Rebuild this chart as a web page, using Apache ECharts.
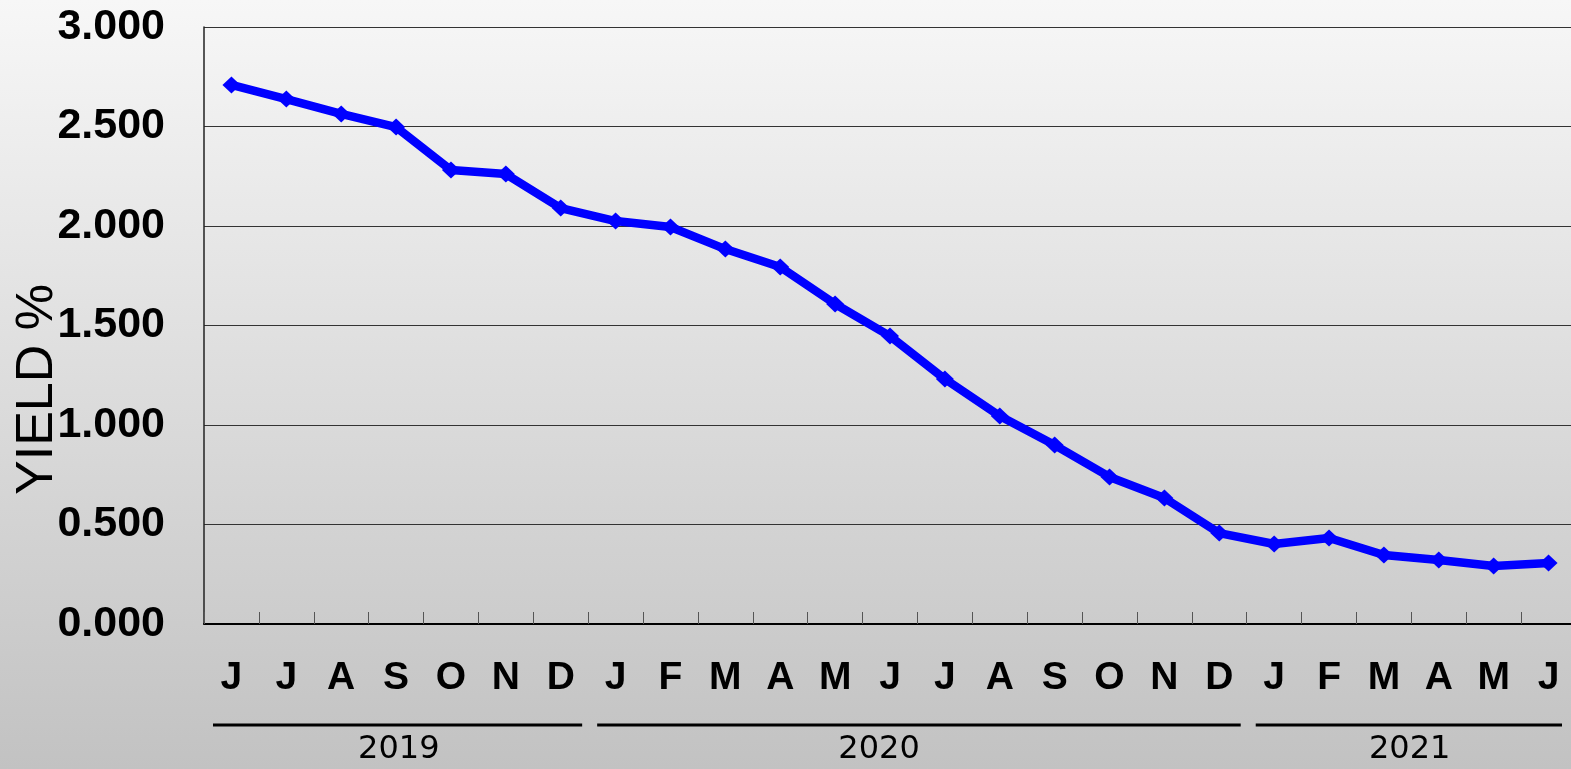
<!DOCTYPE html>
<html>
<head>
<meta charset="utf-8">
<script src="https://cdn.jsdelivr.net/npm/echarts@6/dist/echarts.min.js"></script>
<style>
  html, body { margin: 0; padding: 0; }
  #chart { width: 1571px; height: 769px; }
</style>
</head>
<body>
<div id="chart"></div>
<script>
// months Jun 2019 .. Jun 2021
var months = ['J','J','A','S','O','N','D','J','F','M','A','M','J','J','A','S','O','N','D','J','F','M','A','M','J'];
var yieldValues = [2.709, 2.638, 2.563, 2.497, 2.281, 2.261, 2.090, 2.025, 1.995, 1.884, 1.794, 1.608, 1.447,
  1.231, 1.045, 0.899, 0.739, 0.633, 0.457, 0.402, 0.432, 0.347, 0.322, 0.291, 0.307];
var years = ['2019', '2020', '2021'];
var yearFirst = [0, 7, 19];
var yearLast = [6, 18, 24];
var yearLabelAt = [3.05, 11.8, 21.47];

var myChart = echarts.init(document.getElementById('chart'));
myChart.setOption({
    backgroundColor: new echarts.graphic.LinearGradient(0, 0, 0, 1, [
        {offset: 0, color: '#f7f7f7'},
        {offset: 1, color: '#c2c2c2'}
    ]),
    grid: {
        left: 204,
        top: 27,
        right: -5,
        bottom: 145,
        containLabel: false,
        outerBoundsMode: 'none'
    },
    xAxis: {
        type: 'category',
        data: months,
        boundaryGap: true,
        axisLine: {lineStyle: {color: '#000', width: 2}},
        axisTick: {show: true, inside: true, length: 12, lineStyle: {color: '#555', width: 1}},
        axisLabel: {
            margin: 35,
            fontFamily: 'Liberation Sans',
            fontWeight: 'bold',
            fontSize: 39,
            color: '#000'
        }
    },
    yAxis: {
        type: 'value',
        min: 0,
        max: 3,
        interval: 0.5,
        name: 'YIELD %',
        nameLocation: 'middle',
        nameGap: 140,
        nameRotate: 90,
        nameMoveOverlap: false,
        nameTextStyle: {fontFamily: 'Liberation Sans', fontSize: 52, color: '#000', padding: [0, 128, 0, 0]},
        axisLine: {show: true, lineStyle: {color: '#222', width: 1.5}},
        axisTick: {show: false},
        axisLabel: {
            margin: 39,
            fontFamily: 'Liberation Sans',
            fontWeight: 'bold',
            fontSize: 43,
            color: '#000',
            formatter: function (v) { return v.toFixed(3); }
        },
        splitLine: {lineStyle: {color: '#333', width: 1}}
    },
    series: [
        {
            type: 'line',
            data: yieldValues,
            symbol: 'diamond',
            symbolSize: [18, 17],
            lineStyle: {color: '#0000ff', width: 8.5},
            itemStyle: {color: '#0000ff'},
            animation: false
        }
    ]
});

// year brackets under the month labels, placed from the category axis
var p0 = myChart.convertToPixel({xAxisIndex: 0}, 0);
var p1 = myChart.convertToPixel({xAxisIndex: 0}, 1);
var band = p1 - p0;
var graphics = [];
for (var i = 0; i < years.length; i++) {
    var xs = p0 + (yearFirst[i] - 0.5) * band + 9;
    var xe = p0 + (yearLast[i] + 0.5) * band - 6;
    graphics.push({
        type: 'line',
        shape: {x1: xs, y1: 725, x2: Math.min(xe, 1562), y2: 725},
        style: {stroke: '#000', lineWidth: 3}
    });
    graphics.push({
        type: 'text',
        x: p0 + yearLabelAt[i] * band,
        y: 750,
        style: {
            text: years[i],
            fontFamily: 'DejaVu Sans',
            fontSize: 32,
            fill: '#000',
            align: 'center',
            verticalAlign: 'middle'
        }
    });
}
myChart.setOption({graphic: graphics});
</script>
</body>
</html>
